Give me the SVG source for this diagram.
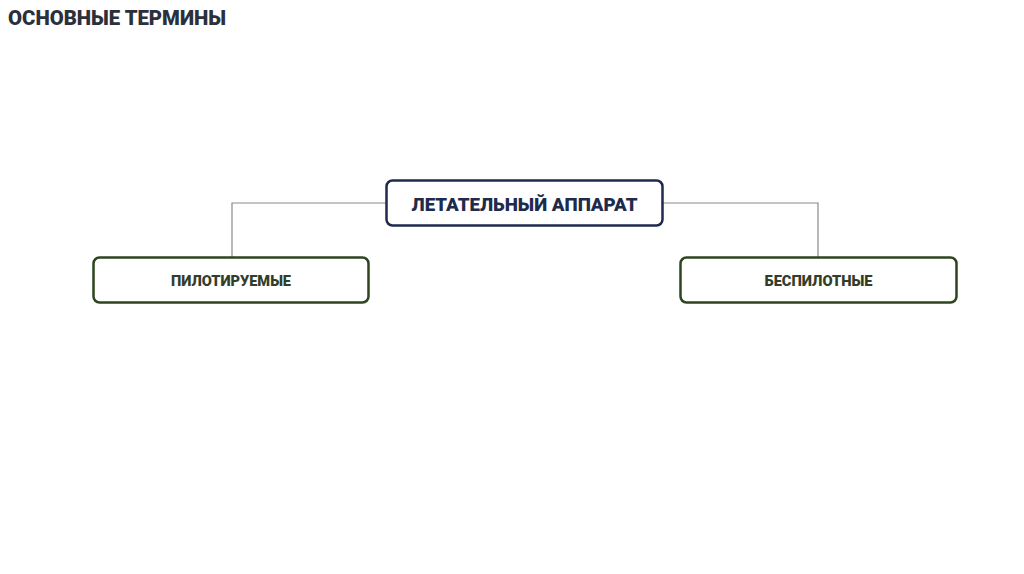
<svg xmlns="http://www.w3.org/2000/svg" width="1024" height="574" viewBox="0 0 1024 574">
<style>
.t{font-family:Roboto,"Liberation Sans",sans-serif;font-weight:900;text-anchor:middle}
.con{fill:none;stroke:#8a8a8a;stroke-width:1.2}
.navy{fill:#fff;stroke:#1e2b4d;stroke-width:2.5}
.green{fill:#fff;stroke:#2e4520;stroke-width:2.5}
</style>
<rect width="1024" height="574" fill="#fff"/>
<text x="8" y="25" font-family="Roboto,'Liberation Sans',sans-serif" font-weight="900" font-size="20" fill="#2b303b" textLength="218" lengthAdjust="spacingAndGlyphs">ОСНОВНЫЕ ТЕРМИНЫ</text>
<g id="connectors">
<polyline class="con" points="386,203 232,203 232,257"/>
<polyline class="con" points="663,203 818,203 818,257"/>
</g>
<g id="root">
<rect class="navy" x="386.5" y="180.5" width="276" height="45" rx="6"/>
<text class="t" x="524.5" y="210.5" font-size="18.5" fill="#1e2b4d" textLength="226" lengthAdjust="spacingAndGlyphs">ЛЕТАТЕЛЬНЫЙ АППАРАТ</text>
</g>
<g id="manned">
<rect class="green" x="93.5" y="257.5" width="275" height="45" rx="6"/>
<text class="t" x="231" y="286" font-size="14" fill="#333d2a" textLength="120" lengthAdjust="spacingAndGlyphs">ПИЛОТИРУЕМЫЕ</text>
</g>
<g id="unmanned">
<rect class="green" x="680.5" y="257.5" width="276" height="45" rx="6"/>
<text class="t" x="818.5" y="286" font-size="14" fill="#333d2a" textLength="108" lengthAdjust="spacingAndGlyphs">БЕСПИЛОТНЫЕ</text>
</g>
</svg>
